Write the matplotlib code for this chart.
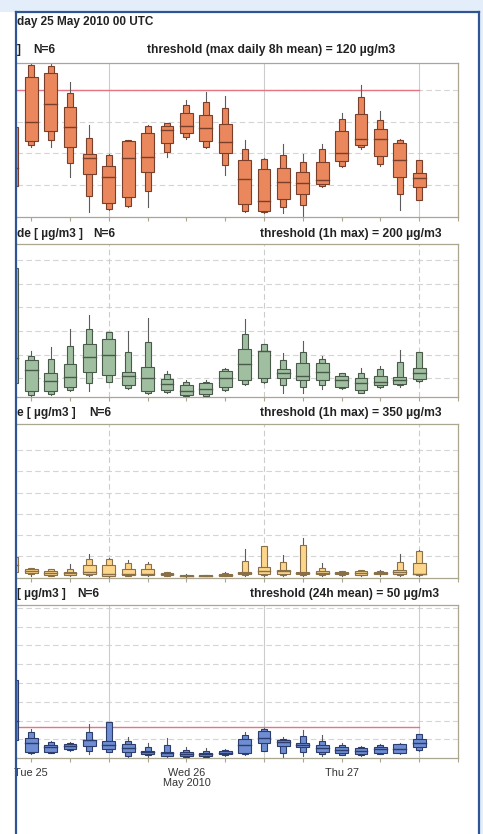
import matplotlib
matplotlib.use("Agg")
import matplotlib.pyplot as plt
from matplotlib.patches import Rectangle
from matplotlib.lines import Line2D

plt.rcParams['font.family'] = ['Liberation Sans', 'DejaVu Sans']

# forecast hours after Tue 25 May 2010 00 UTC (3-hourly)
hours = [-3, 0, 3, 6, 9, 12, 15, 18, 21, 24, 27, 30, 33, 36, 39, 42, 45, 48, 51, 54, 57, 60]

# rows: whisker low, outer low, box low, median, box high, outer high, whisker high
ozone = [
    (29, 29, 29, 46, 85, 85, 85),
    (66.3, 67.9, 71.7, 90, 132, 143.6, 144.5),
    (65.7, 72.6, 81.1, 106.7, 135.7, 142.7, 144.6),
    (37.2, 51.1, 66.3, 84.6, 104.2, 116.8, 127.8),
    (4.7, 19.9, 40.1, 55.2, 59.3, 74.2, 86.8),
    (6.3, 6.9, 12.6, 37.2, 48.3, 58.4, 59),
    (8.8, 10.4, 18.9, 55.2, 72, 72.6, 72.6),
    (8.8, 24.6, 42.6, 56.2, 79.5, 85.9, 86.8),
    (56.2, 61.6, 69.4, 82.1, 85.9, 88.4, 89),
    (73.2, 75.1, 79.5, 86.2, 97.9, 105.7, 110.5),
    (65.3, 66.3, 72, 83.6, 96.3, 108.9, 117.7),
    (39.5, 48.9, 60, 70.4, 87.8, 102.6, 114.3),
    (4.1, 5.4, 11.7, 35.4, 53.7, 63.8, 72.6),
    (3.8, 4.4, 5.7, 14.8, 44.8, 54.3, 55.2),
    (3.2, 8.8, 16.4, 32.5, 45.8, 58.1, 68.8),
    (0.9, 10.7, 21.1, 31.6, 42.6, 51.8, 59.3),
    (27.8, 29, 30.6, 34.7, 51.8, 63.8, 68.8),
    (47.3, 48.3, 52.7, 60, 81.1, 92.2, 98.5),
    (64.4, 65.7, 67.9, 73.5, 96.9, 113, 124.7),
    (48, 49.6, 57.4, 73.5, 82.7, 91.5, 100.1),
    (6.3, 21.5, 37.9, 53.7, 70.1, 72.6, 73.2),
    (15.8, 15.8, 28.4, 36.3, 41, 53.7, 53.7),
]

no2 = [
    (16.2, 16.2, 16.2, 37, 113, 113, 113),
    (5.5, 6.1, 9.7, 27.2, 35.3, 39.3, 43.5),
    (6.1, 6.6, 8.9, 17.9, 24.4, 36.2, 46.3),
    (9.7, 10.3, 12.3, 21, 32, 47.4, 61.5),
    (8.9, 15.9, 25.2, 37.9, 48.6, 61.5, 73.6),
    (16.8, 16.8, 23, 39.8, 53, 59.5, 59.5),
    (11.4, 12, 14, 22.4, 25.2, 42.1, 60.1),
    (6.9, 7.5, 9.5, 20.1, 30, 50.5, 70.8),
    (7.8, 8.3, 10.3, 15.1, 19.6, 23.5, 26.3),
    (4.6, 5.2, 6.1, 9.7, 14, 16.8, 18.7),
    (4.7, 5, 6.6, 10.9, 15.9, 17.3, 18.2),
    (9.7, 10.3, 12.5, 20.1, 26.3, 27.7, 28.6),
    (14.5, 15.1, 18.7, 32.2, 44.6, 57.3, 69.9),
    (16.2, 16.8, 20.7, 42.9, 43.5, 48.8, 48.8),
    (8, 14, 20.7, 24.4, 27.7, 35.6, 41.8),
    (7.5, 13.1, 18.2, 22.1, 32.8, 42.6, 51.9),
    (10.9, 14, 18.2, 25.2, 32.8, 36.5, 39),
    (11.4, 12, 13.1, 18.7, 22.1, 24.1, 24.4),
    (7.5, 8, 10.3, 15.9, 20.7, 24.9, 28.6),
    (11.7, 12.5, 14, 16.8, 22.4, 27.7, 30.8),
    (12.5, 14, 15.1, 18.7, 21.5, 33.6, 44),
    (17.3, 17.6, 19.6, 24.4, 29.1, 42.6, 42.6),
]

so2 = [
    (1.4, 1.4, 1.4, 3.0, 4.9, 4.9, 4.9),
    (0.3, 0.86, 1.09, 1.48, 2.03, 2.27, 2.3),
    (0.31, 0.47, 0.70, 1.09, 1.48, 2.03, 2.1),
    (0.31, 0.55, 0.70, 1.02, 1.33, 2.11, 3.2),
    (0.31, 0.63, 0.94, 1.25, 2.89, 4.45, 5.63),
    (0.16, 0.31, 0.47, 0.94, 3.05, 4.45, 4.61),
    (0.31, 0.47, 0.70, 0.86, 2.11, 3.44, 4.06),
    (0.31, 0.55, 0.70, 0.86, 2.03, 3.2, 3.67),
    (0.31, 0.39, 0.55, 0.78, 1.02, 1.25, 1.33),
    (0.16, 0.31, 0.39, 0.47, 0.55, 0.70, 0.86),
    (0.31, 0.31, 0.39, 0.47, 0.63, 0.70, 0.70),
    (0.31, 0.31, 0.39, 0.63, 0.86, 1.09, 1.41),
    (0.31, 0.70, 0.86, 1.09, 1.25, 3.98, 6.72),
    (0.31, 0.55, 0.86, 1.48, 2.42, 7.34, 7.5),
    (0.31, 0.55, 0.86, 1.48, 1.88, 3.67, 5.39),
    (0.31, 0.70, 0.94, 1.09, 1.33, 7.6, 9.3),
    (0.31, 0.70, 0.94, 1.09, 1.48, 2.27, 3.44),
    (0.47, 0.63, 0.86, 1.02, 1.25, 1.48, 1.48),
    (0.47, 0.55, 0.70, 1.02, 1.48, 1.72, 1.72),
    (0.47, 0.78, 0.94, 1.02, 1.25, 1.48, 1.88),
    (0.31, 0.55, 0.86, 1.33, 1.72, 3.67, 5.63),
    (0.31, 0.55, 0.86, 0.94, 3.44, 6.17, 6.6),
]

pm10 = [
    (29, 29, 29, 60, 125, 125, 125),
    (6.9, 8, 10.6, 23.9, 33, 41.5, 46.3),
    (8, 9, 10.6, 17.6, 21.3, 25.5, 28.2),
    (11.7, 12.8, 14.4, 19.7, 22.9, 25, 26.6),
    (6.4, 11.7, 19.7, 28.7, 29.3, 41.5, 54.8),
    (9.6, 10.6, 14.9, 21.3, 28.2, 57.4, 57.4),
    (0.5, 4.3, 10.6, 16, 22.9, 28.2, 33.5),
    (2.7, 4.8, 6.9, 10.1, 12.2, 17.6, 23.9),
    (2.1, 3.2, 4.3, 8, 10.6, 21.3, 31.9),
    (1.1, 2.7, 4.3, 7.4, 10.6, 13.3, 17.6),
    (1.1, 2.1, 3.7, 6.9, 9, 12.2, 16),
    (4.3, 5.3, 6.4, 9, 11.7, 13.3, 15.4),
    (5.9, 6.9, 9, 21.3, 30.3, 37.2, 42.6),
    (11.7, 12.2, 23.9, 33, 43.6, 47.3, 48.9),
    (0, 9, 19.7, 26.6, 29.3, 31.4, 33.5),
    (3.7, 10.6, 17.6, 21.3, 25, 35.6, 45.2),
    (4.3, 6.9, 10.6, 16, 21.3, 28.2, 37.2),
    (4.8, 5.9, 8, 13.3, 17.6, 21.3, 23.9),
    (3.7, 4.8, 6.4, 12.2, 17, 18.6, 19.7),
    (6.4, 7.4, 9, 14.4, 18.6, 20.7, 22.9),
    (7.4, 8, 9, 14.4, 22.3, 23.4, 23.9),
    (12.2, 12.8, 17.6, 23.9, 30.3, 38.3, 38.8),
]

panel_prefix = ["]", "de [ \u00b5g/m3 ]", "e [ \u00b5g/m3 ]", "[ \u00b5g/m3 ]"]
panel_threshold = ["threshold (max daily 8h mean) = 120 \u00b5g/m3",
                   "threshold (1h max) = 200 \u00b5g/m3",
                   "threshold (1h max) = 350 \u00b5g/m3",
                   "threshold (24h mean) = 50 \u00b5g/m3"]
threshold_values = [120, 200, 350, 50]
y_limits = [(0, 145.3), (4.5, 133.5), (0, 36.1), (0, 244.5)]
y_grid = [[30, 60, 90, 120], [20, 40, 60, 80, 100, 120],
          [5, 10, 15, 20, 25, 30], [30, 60, 90, 120, 150, 180, 210, 240]]
day_ticks = [0, 24, 48]
day_labels = ["Tue 25", "Wed 26\nMay 2010", "Thu 27"]
title = "day 25 May 2010 00 UTC"

fills = ['#EA875C', '#A0BFA0', '#FDD68C', '#6E8DD2']
edges = ['#7a3f2a', '#4a5a4a', '#8a7048', '#2c3c6c']
solid_vgrid = [True, False, False, True]

W, H = 483, 834
fig = plt.figure(figsize=(W / 100, H / 100), dpi=100)

# pixel rows of each panel (top, bottom)
rows_px = [(63.3, 216.7), (244, 396.7), (424, 577.7), (605, 758.3)]
label_y = [50, 234, 413, 594]
n_x = [33, 93, 89, 77]
thr_x = [147, 260, 260, 250]
spine_col = '#aaa690'


def draw_boxes(ax, data, fill, edge):
    for h, (wl, ol, il, m, ih, oh, wh) in zip(hours, data):
        ax.plot([h, h], [wl, wh], color='#5c5c5c', lw=0.8, zorder=2)
        ax.add_patch(Rectangle((h - 0.46, ol), 0.92, oh - ol, fc=fill, ec=edge, lw=0.8, zorder=3))
        ax.add_patch(Rectangle((h - 0.98, il), 1.96, ih - il, fc=fill, ec=edge, lw=0.8, zorder=4))
        ax.plot([h - 0.98, h + 0.98], [m, m], color=edge, lw=1.0, zorder=5)


for i, data in enumerate([ozone, no2, so2, pm10]):
    top, bot = rows_px[i]
    ax = fig.add_axes([17 / W, 1 - bot / H, 441 / W, (bot - top) / H])
    ax.set_xlim(-2.2, 66)
    ax.set_ylim(*y_limits[i])
    ax.set_yticks(y_grid[i])
    ax.yaxis.grid(True, ls=(0, (5, 3)), color='#d4d4d4', lw=0.8)
    ax.set_axisbelow(True)
    ax.tick_params(axis='y', length=0, labelleft=False)
    ax.set_xticks(range(0, 67, 6))
    ax.tick_params(axis='x', direction='out', length=3.2, color=spine_col, width=0.8,
                   pad=3.5, labelsize=7.8, labelcolor='#333333')
    for s in ['top', 'right', 'bottom']:
        ax.spines[s].set_color(spine_col)
        ax.spines[s].set_linewidth(0.9)
    ax.spines['left'].set_visible(False)
    for vh in [12, 36, 60]:
        if solid_vgrid[i]:
            ax.axvline(vh, color='#cccccc', lw=0.8, zorder=1)
        else:
            ax.axvline(vh, color='#cccccc', lw=0.8, ls=(0, (5, 3)), zorder=1)
    lo, hi = y_limits[i]
    if lo < threshold_values[i] < hi:
        ax.plot([-2.2, 60], [threshold_values[i]] * 2, color='#e57585', lw=1.0, zorder=1.5)
    draw_boxes(ax, data, fills[i], edges[i])
    if i == 3:
        ax.set_xticklabels([day_labels[day_ticks.index(t)] if t in day_ticks else ""
                            for t in range(0, 67, 6)], linespacing=1.0)
    else:
        ax.tick_params(axis='x', labelbottom=False)

    yf = 1 - label_y[i] / H
    fig.text(17 / W, yf, panel_prefix[i], fontsize=8.6, fontweight='bold', color='#222222', va='center')
    fig.text(n_x[i] / W, yf, "N=6", fontsize=8.6, fontweight='bold', color='#222222', va='center')
    fig.text(thr_x[i] / W, yf, panel_threshold[i], fontsize=8.7, fontweight='bold',
             color='#222222', va='center')

fig.text(17 / W, 1 - 22 / H, title, fontsize=8.5, fontweight='bold', color='#222222', va='center')

# page frame around the chart
light = '#e3eefa'
fig.patches.append(Rectangle((0, 1 - 11.5 / H), 1, 11.5 / H, transform=fig.transFigure,
                             fc=light, ec='none', zorder=10))
fig.patches.append(Rectangle((480 / W, 0), 3 / W, 1, transform=fig.transFigure,
                             fc=light, ec='none', zorder=10))
frame = '#2f5597'
fig.lines.append(Line2D([16 / W, 16 / W], [0, 1 - 11.5 / H], transform=fig.transFigure,
                        color=frame, lw=1.6, zorder=11))
fig.lines.append(Line2D([479.3 / W, 479.3 / W], [0, 1 - 11.5 / H], transform=fig.transFigure,
                        color=frame, lw=1.6, zorder=11))
fig.lines.append(Line2D([16 / W, 479.3 / W], [1 - 12 / H, 1 - 12 / H], transform=fig.transFigure,
                        color=frame, lw=1.6, zorder=11))

fig.savefig("out.png", dpi=100)
